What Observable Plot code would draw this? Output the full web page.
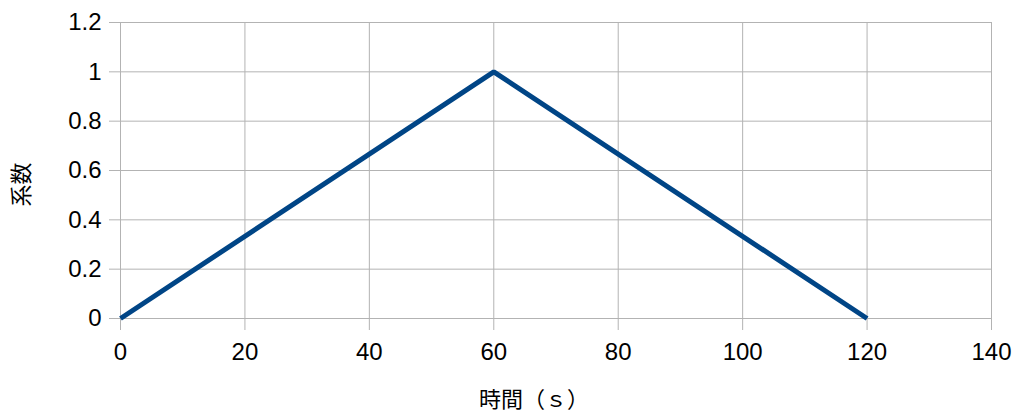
<!DOCTYPE html>
<html>
<head>
<meta charset="utf-8">
<script src="https://cdn.jsdelivr.net/npm/d3@7"></script>
<script src="https://cdn.jsdelivr.net/npm/@observablehq/plot@0.6"></script>
<style>
  html, body { margin: 0; padding: 0; background: #fff; }
  svg { display: block; }
</style>
</head>
<body>
<div id="chart"></div>
<script>
// Data
const times = [0, 60, 120];
const coefficients = [0, 1, 0];
const xTicks = [0, 20, 40, 60, 80, 100, 120, 140];
const yTicks = [0, 0.2, 0.4, 0.6, 0.8, 1, 1.2];
const xTitle = "時間（ｓ）";
const yTitle = "系数";

const data = times.map((t, i) => ({t, c: coefficients[i]}));
const gridColor = "#b3b3b3";
const fontStack = "'Liberation Sans', Arial, sans-serif";
const cjkFont = "'Noto Sans CJK JP', 'Noto Sans CJK SC', sans-serif";

const chart = Plot.plot({
  width: 1015,
  height: 414,
  marginLeft: 120,
  marginRight: 24,
  marginTop: 22,
  marginBottom: 96,
  style: {fontFamily: fontStack, fontSize: "24px", color: "#000", background: "#fff"},
  x: {domain: [0, 140], ticks: xTicks},
  y: {domain: [0, 1.2], ticks: yTicks},
  marks: [
    Plot.gridX(xTicks, {stroke: gridColor, strokeOpacity: 1, strokeWidth: 1}),
    Plot.gridY(yTicks, {stroke: gridColor, strokeOpacity: 1, strokeWidth: 1}),
    Plot.axisX(xTicks, {tickSize: 12, tickPadding: 12, stroke: gridColor, fill: "#000", fontSize: 24, label: null}),
    Plot.axisY(yTicks, {tickSize: 11, tickPadding: 8, stroke: gridColor, fill: "#000", fontSize: 24, label: null,
      tickFormat: d => String(+d.toFixed(1))}),
    Plot.line(data, {x: "t", y: "c", stroke: "#004586", strokeWidth: 5, strokeLinejoin: "miter", strokeLinecap: "butt"}),
    Plot.text([xTitle], {frameAnchor: "bottom", dy: 88, dx: -22, fontSize: 22, fontFamily: cjkFont, fill: "#000"}),
    Plot.text([yTitle], {frameAnchor: "left", dx: -99, dy: 36, rotate: -90, fontSize: 22, fontFamily: cjkFont, fill: "#000"})
  ]
});
document.getElementById("chart").appendChild(chart);
</script>
</body>
</html>
